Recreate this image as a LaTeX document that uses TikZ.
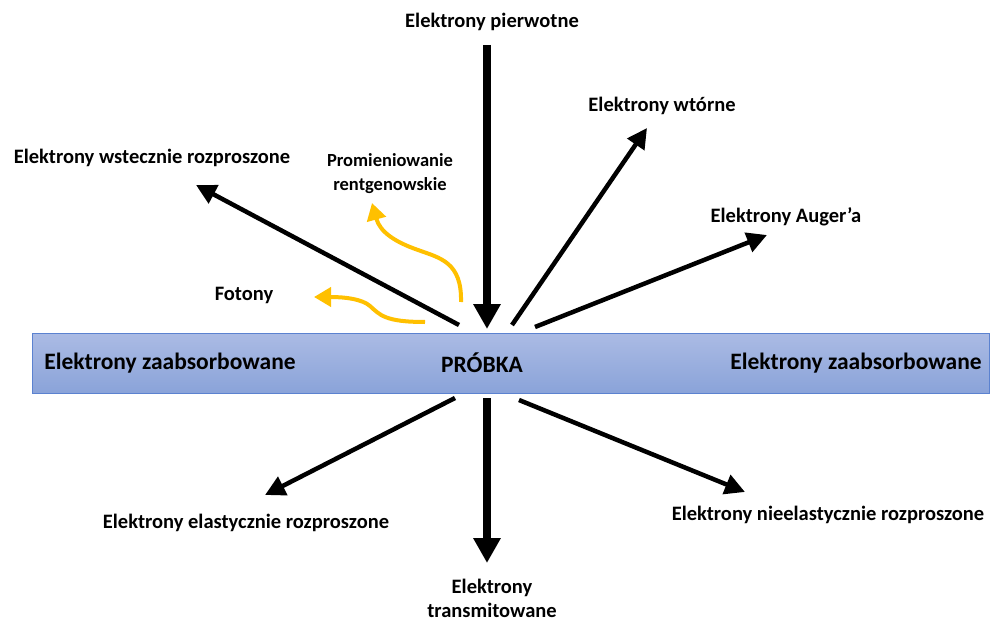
\documentclass[tikz,border=0pt]{standalone}
\usepackage{fontspec}
\setmainfont{Carlito}
\usetikzlibrary{arrows.meta,positioning}
\definecolor{barTop}{HTML}{ABBBE4}
\definecolor{barBot}{HTML}{8AA3D9}
\definecolor{barLine}{HTML}{5B82D0}
\definecolor{xray}{HTML}{FFC000}

\begin{document}
\begin{tikzpicture}[
  x=1pt,y=-1pt,
  font=\bfseries\fontsize{20.5}{24}\selectfont,
  lab/.style={inner sep=0pt,align=center},
  big/.style={font=\bfseries\fontsize{23.5}{28}\selectfont},
  sample/.style={draw=barLine,line width=1pt,top color=barTop,bottom color=barBot,
                 minimum width=957pt,minimum height=60pt,inner sep=0pt},
  beam/.style={line width=4.5pt,-{Triangle[length=20pt,width=20pt]}},
  fat/.style={line width=8pt,-{Triangle[length=25pt,width=26pt]}},
  ray/.style={draw=xray,line width=4pt,-{Triangle[length=17pt,width=19pt]}}
]
\useasboundingbox (0,0) rectangle (991,623);

\node[sample] (probka) at (510.5,363) {};
\node[lab,big] (abs1) at (170,363) {Elektrony zaabsorbowane};
\node[lab,big] (abs2) at (856,363) {Elektrony zaabsorbowane};
\node[lab,big] (name) at (482,363) {PRÓBKA};

\node[lab] (pierw) at (492,22) {Elektrony pierwotne};
\node[lab] (wtorne) at (662,106) {Elektrony wtórne};
\node[lab] (wstecz) at (152,158) {Elektrony wstecznie rozproszone};
\node[lab] (auger) at (786,217) {Elektrony Auger’a};
\node[lab] (fotony) at (244,295) {Fotony};
\node[lab,font=\bfseries\fontsize{18.5}{24}\selectfont] (rtg) at (390,174) {Promieniowanie\\rentgenowskie};
\node[lab] (elast) at (246,523) {Elektrony elastycznie rozproszone};
\node[lab] (nieel) at (828,515) {Elektrony nieelastycznie rozproszone};
\node[lab] (trans) at (492,598) {Elektrony\\transmitowane};

\coordinate (inTop) at (487,45);
\coordinate (inEnd) at (487,329);
\coordinate (trStart) at (487,398);
\coordinate (trEnd) at (487,563);
\coordinate (bsStart) at (459,325);
\coordinate (bsEnd) at (196,185);
\coordinate (seStart) at (512,325);
\coordinate (seEnd) at (647,128);
\coordinate (auStart) at (535,327);
\coordinate (auEnd) at (767,235);
\coordinate (elStart) at (455,398);
\coordinate (elEnd) at (265,495);
\coordinate (inelStart) at (519,400);
\coordinate (inelEnd) at (745,492);
\coordinate (rtgStart) at (461,302);
\coordinate (rtgEnd) at (372,203);
\coordinate (fotStart) at (425,322);
\coordinate (fotEnd) at (314,297);

\draw[fat] (inTop) -- (inEnd);
\draw[fat] (trStart) -- (trEnd);
\draw[beam] (bsStart) -- (bsEnd);
\draw[beam] (seStart) -- (seEnd);
\draw[beam] (auStart) -- (auEnd);
\draw[beam] (elStart) -- (elEnd);
\draw[beam] (inelStart) -- (inelEnd);
\draw[ray] (rtgStart) .. controls (462,262) and (440,258) .. (418,250)
           .. controls (395,242) and (380,232) .. (rtgEnd);
\draw[ray] (fotStart) .. controls (385,322) and (380,315) .. (370,306)
           .. controls (362,299) and (345,297) .. (fotEnd);
\end{tikzpicture}
\end{document}
